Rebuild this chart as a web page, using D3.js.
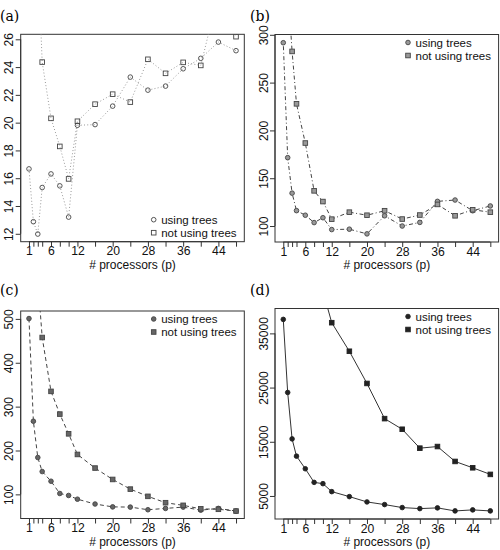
<!DOCTYPE html>
<html>
<head>
<meta charset="utf-8">
<script src="https://cdn.jsdelivr.net/npm/d3@7"></script>
<style>
  body { margin: 0; background: #fff; }
  svg text { font-family: "Liberation Sans", Arial, sans-serif; }
</style>
</head>
<body>
<svg id="fig" width="500" height="550"></svg>
<script>
// processors used on the x axis
var procs = [1, 2, 3, 4, 6, 8, 10, 12, 16, 20, 24, 28, 32, 36, 40, 44, 48];
var xTickLabels = [1, 6, 12, 20, 28, 36, 44];

// (a)
var aTrees   = [16.67, 12.87, 11.98, 15.33, 16.31, 15.45, 13.2, 19.81, 19.86, 21.19, 23.28, 22.34, 22.63, 23.88, 24.63, 25.8, 25.18];
var aNoTrees = [45, 38, 32, 24.36, 20.31, 18.29, 15.95, 20.1, 21.33, 22.05, 21.48, 24.56, 23.55, 24.34, 24.12, 29.3, 26.19];
var aYTicks  = [12, 14, 16, 18, 20, 22, 24, 26];

// (b)
var bTrees   = [291.7, 171.5, 134.4, 116.1, 111.3, 103.6, 108.7, 96.3, 96.7, 91.8, 110.7, 100, 103.8, 125.8, 127.2, 116, 121];
var bNoTrees = [700, 352, 282.6, 227.8, 186.8, 136.8, 125.6, 107.2, 114.5, 111.3, 116, 107.3, 111.5, 122.6, 110.7, 117, 114.5];
var bYTicks  = [100, 150, 200, 250, 300];

// (c)
var cTrees   = [500.8, 266.7, 184, 152, 130, 102, 97.5, 89, 78, 71.5, 71, 65, 68, 71, 64, 68, 62];
var cNoTrees = [1800, 900, 590, 457.6, 334.8, 283, 238, 191, 160, 134, 112, 95.5, 81, 75, 67, 66, 62];
var cYTicks  = [100, 200, 300, 400, 500];

// (d)
var dTrees   = [37580, 24100, 15530, 12350, 10020, 7510, 7270, 5800, 4880, 3900, 3410, 2860, 2670, 2800, 2240, 2430, 2240];
var dNoTrees = [120000, 90000, 75000, 65000, 55000, 48000, 42800, 36970, 31700, 25760, 19270, 17310, 13820, 14120, 11370, 10200, 8980];
var dYTicks  = [5000, 15000, 25000, 35000];

var legendNames = ["using trees", "not using trees"];

var svg = d3.select("#fig");

var panels = [
  {id: "a", tag: "(a)", tagX: 0, box: [20.7, 34.3, 244.3, 241.7], yDom: [11.43, 26.36], trees: aTrees, noTrees: aNoTrees, yTicks: aYTicks,
   lineColor: "#9a9a9a", dash: "1,2.2", ptFill: "none", ptStroke: "#444", legend: "br", tagY: 16},
  {id: "b", tag: "(b)", tagX: 250, box: [275, 34.5, 498.6, 242], yDom: [83.3, 300.3], trees: bTrees, noTrees: bNoTrees, yTicks: bYTicks,
   lineColor: "#444", dash: "1,2.5,4,2.5", ptFill: "#999", ptStroke: "#444", legend: "tr", tagY: 16},
  {id: "c", tag: "(c)", tagX: 0, box: [20.7, 311, 244.3, 518.5], yDom: [45, 518], trees: cTrees, noTrees: cNoTrees, yTicks: cYTicks,
   lineColor: "#444", dash: "4,3", ptFill: "#666", ptStroke: "#444", legend: "tr", tagY: 290},
  {id: "d", tag: "(d)", tagX: 250, box: [275, 308.5, 498.6, 519], yDom: [750, 39590], trees: dTrees, noTrees: dNoTrees, yTicks: dYTicks,
   lineColor: "#333", dash: null, ptFill: "#222", ptStroke: "#222", legend: "tr", tagY: 290}
];

function drawSymbol(g, kind, cx, cy, p) {
  if (kind == "circle") {
    g.append("circle")
      .attr("cx", cx).attr("cy", cy).attr("r", 2.3)
      .attr("fill", p.ptFill).attr("stroke", p.ptStroke).attr("stroke-width", 0.9);
  } else {
    g.append("rect")
      .attr("x", cx - 2.3).attr("y", cy - 2.3).attr("width", 4.6).attr("height", 4.6)
      .attr("fill", p.ptFill).attr("stroke", p.ptStroke).attr("stroke-width", 0.9);
  }
}

panels.forEach(function(p) {
  var left = p.box[0], top = p.box[1], right = p.box[2], bottom = p.box[3];
  var x = d3.scaleLinear().domain([-0.88, 49.88]).range([left, right]);
  var y = d3.scaleLinear().domain(p.yDom).range([bottom, top]);
  var g = svg.append("g");

  g.append("clipPath").attr("id", "clip-" + p.id)
    .append("rect").attr("x", left).attr("y", top).attr("width", right - left).attr("height", bottom - top);

  // panel tag, serif like the LaTeX caption
  g.append("text")
    .attr("x", p.tagX).attr("y", p.tagY + 5)
    .style("font-family", "'DejaVu Serif', 'Liberation Serif', serif")
    .style("font-size", "14px")
    .text(p.tag);

  // x axis: a tick at every processor count, labels only where R kept them
  var xAxis = g.append("g")
    .attr("transform", "translate(0," + bottom + ")")
    .call(d3.axisBottom(x).tickValues(procs).tickSize(5).tickPadding(0)
      .tickFormat(function(d) { return xTickLabels.indexOf(d) >= 0 ? d : ""; }));
  xAxis.select(".domain").attr("d", "M" + x(1) + ",0H" + x(48)).attr("stroke", "#333");
  xAxis.selectAll(".tick line").attr("stroke", "#333");
  xAxis.selectAll(".tick text").filter(function(d) { return xTickLabels.indexOf(d) < 0; }).remove();
  xAxis.selectAll("text").style("font-size", "12.2px").attr("fill", "#111");

  g.append("text")
    .attr("x", (left + right) / 2).attr("y", bottom + 27.2)
    .attr("text-anchor", "middle")
    .style("font-size", "12px").attr("fill", "#111")
    .text("# processors (p)");

  // y axis, labels turned like R's las=0
  var yAxis = g.append("g")
    .attr("transform", "translate(" + left + ",0)")
    .call(d3.axisLeft(y).tickValues(p.yTicks).tickSize(5).tickFormat(d3.format("d")));
  var yt = p.yTicks;
  yAxis.select(".domain").attr("d", "M0," + y(yt[0]) + "V" + y(yt[yt.length - 1])).attr("stroke", "#333");
  yAxis.selectAll(".tick line").attr("stroke", "#333");
  yAxis.selectAll(".tick text")
    .attr("x", null).attr("dy", null)
    .attr("transform", "translate(-7.5,0) rotate(-90)")
    .attr("text-anchor", "middle")
    .attr("y", 0)
    .style("font-size", "12px").attr("fill", "#111");

  // box
  g.append("rect")
    .attr("x", left).attr("y", top).attr("width", right - left).attr("height", bottom - top)
    .attr("fill", "none").attr("stroke", "#333").attr("stroke-width", 1);

  var plot = g.append("g").attr("clip-path", "url(#clip-" + p.id + ")");
  var line = d3.line()
    .x(function(d, i) { return x(procs[i]); })
    .y(function(d) { return y(d); });

  [p.trees, p.noTrees].forEach(function(series, k) {
    plot.append("path")
      .datum(series)
      .attr("fill", "none")
      .attr("stroke", p.lineColor)
      .attr("stroke-width", 1)
      .attr("stroke-dasharray", p.dash)
      .attr("d", line);
    series.forEach(function(v, i) {
      drawSymbol(plot, k == 0 ? "circle" : "square", x(procs[i]), y(v), p);
    });
  });

  // legend
  var lx = left + 133;
  var ly = p.legend == "br" ? bottom - 22 : top + 8;
  legendNames.forEach(function(name, k) {
    drawSymbol(g, k == 0 ? "circle" : "square", lx, ly + k * 13, p);
    g.append("text")
      .attr("x", lx + 7.5).attr("y", ly + k * 13 + 4)
      .style("font-size", "11.5px").attr("fill", "#111")
      .text(name);
  });
});
</script>
</body>
</html>
